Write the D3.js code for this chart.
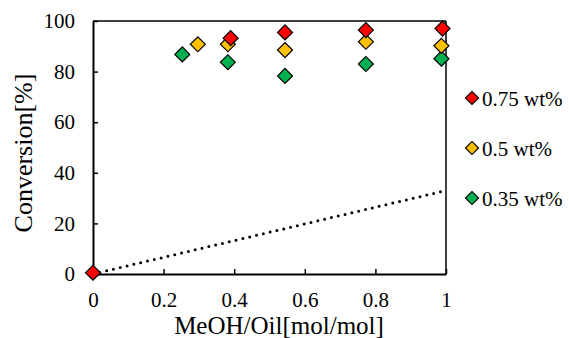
<!DOCTYPE html>
<html>
<head>
<meta charset="utf-8">
<script src="https://cdn.jsdelivr.net/npm/d3@7"></script>
<style>
  body { margin: 0; background: #fff; }
  svg text { font-family: "Liberation Serif", "Times New Roman", serif; fill: #000; }
</style>
</head>
<body>
<div id="chart"></div>
<script>
var seriesNames = ["0.75 wt%", "0.5 wt%", "0.35 wt%"];
var seriesColors = ["#FF0000", "#FFC000", "#00B050"];

var red_x = [0, 0.39, 0.544, 0.773, 0.99];
var red_y = [0.5, 93.2, 95.5, 96.4, 97];
var yellow_x = [0.297, 0.382, 0.544, 0.773, 0.987];
var yellow_y = [90.8, 90.8, 88.5, 91.8, 90.2];
var green_x = [0.253, 0.382, 0.544, 0.773, 0.987];
var green_y = [86.8, 83.7, 78.3, 83, 85.1];

var trend_x = [0, 1];
var trend_y = [0, 33];

var xTicks = [0, 0.2, 0.4, 0.6, 0.8, 1];
var yTicks = [0, 20, 40, 60, 80, 100];

var w = 569, h = 338;
var margin = { top: 21, right: 123, bottom: 64, left: 93 };
var pw = w - margin.left - margin.right;
var ph = h - margin.top - margin.bottom;

var svg = d3.select("#chart").append("svg")
    .attr("width", w)
    .attr("height", h);

var g = svg.append("g")
    .attr("transform", "translate(" + margin.left + "," + margin.top + ")");

var xScale = d3.scaleLinear().domain([0, 1]).range([0, pw]);
var yScale = d3.scaleLinear().domain([0, 100]).range([ph, 0]);

// frame top and right
g.append("line").attr("x1", 0).attr("x2", pw).attr("y1", 0).attr("y2", 0)
    .style("stroke", "#000").style("stroke-width", 1.5);
g.append("line").attr("x1", pw).attr("x2", pw).attr("y1", 0).attr("y2", ph)
    .style("stroke", "#000").style("stroke-width", 1.5);

// X axis
var xAxis = g.append("g")
    .attr("transform", "translate(0," + ph + ")")
    .call(d3.axisBottom(xScale).tickValues(xTicks).tickSizeInner(-5).tickSizeOuter(0).tickPadding(18)
        .tickFormat(function (d) { return d; }));
xAxis.attr("font-family", null).attr("font-size", null);
xAxis.select(".domain").style("stroke-width", 2);
xAxis.selectAll("line").style("stroke-width", 1.5);
xAxis.selectAll("text").style("font-size", "21px");

// Y axis
var yAxis = g.append("g")
    .call(d3.axisLeft(yScale).tickValues(yTicks).tickSizeInner(-5).tickSizeOuter(0).tickPadding(18));
yAxis.attr("font-family", null).attr("font-size", null);
yAxis.select(".domain").style("stroke-width", 2);
yAxis.selectAll("line").style("stroke-width", 1.5);
yAxis.selectAll("text").style("font-size", "21px");

// dotted trend line
var line = d3.line()
    .x(function (d) { return xScale(d[0]); })
    .y(function (d) { return yScale(d[1]); });
g.append("path")
    .datum(d3.zip(trend_x, trend_y))
    .attr("d", line)
    .style("fill", "none")
    .style("stroke", "#000")
    .style("stroke-width", 3)
    .style("stroke-linecap", "round")
    .style("stroke-dasharray", "0,7");

var diamond = d3.symbol().type(d3.symbolSquare);

var series = [
    d3.zip(green_x, green_y),
    d3.zip(yellow_x, yellow_y),
    d3.zip(red_x, red_y)
];
var seriesCol = [seriesColors[2], seriesColors[1], seriesColors[0]];

series.forEach(function (pts, i) {
    g.selectAll(".pt" + i)
        .data(pts)
        .enter().append("path")
        .attr("d", diamond.size(112)())
        .attr("transform", function (d) {
            return "translate(" + xScale(d[0]) + "," + yScale(d[1]) + ") rotate(45)";
        })
        .style("fill", seriesCol[i])
        .style("stroke", "#000")
        .style("stroke-width", 1.2);
});

// legend
var legend = svg.append("g");
seriesNames.forEach(function (name, i) {
    var y = 98 + i * 50;
    legend.append("path")
        .attr("d", diamond.size(85)())
        .attr("transform", "translate(472," + y + ") rotate(45)")
        .style("fill", seriesColors[i])
        .style("stroke", "#000")
        .style("stroke-width", 1.2);
    legend.append("text")
        .attr("x", 482)
        .attr("y", y + 8)
        .style("font-size", "21px")
        .text(name);
});

// axis titles
svg.append("text")
    .attr("x", 279)
    .attr("y", 334)
    .attr("text-anchor", "middle")
    .style("font-size", "25px")
    .text("MeOH/Oil[mol/mol]");

svg.append("text")
    .attr("transform", "translate(32,153) rotate(-90)")
    .attr("text-anchor", "middle")
    .style("font-size", "26px")
    .text("Conversion[%]");
</script>
</body>
</html>
